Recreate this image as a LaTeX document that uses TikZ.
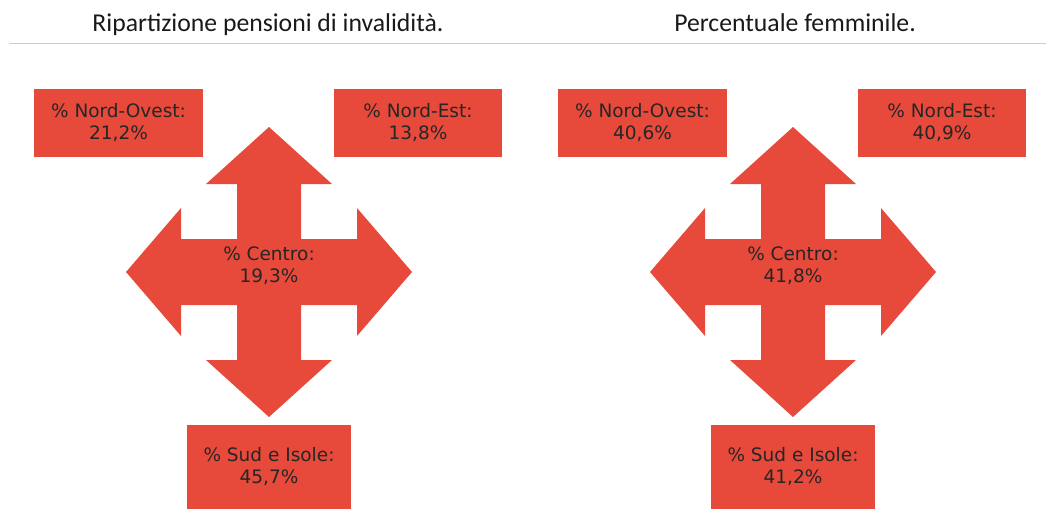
\documentclass[tikz,border=0pt]{standalone}
\usepackage{fontspec}
\usepackage{tikz}
\newfontfamily\boxfont{DejaVu Sans}
\newfontfamily\titlefont{Carlito}
\definecolor{arrowred}{RGB}{231,73,58}
\definecolor{rulegray}{RGB}{204,204,204}
\def\crossarrow(#1){\begin{scope}[shift={(#1)}]\fill[arrowred] (0,-145) -- (63,-88) -- (32,-88) -- (32,-33) -- (88,-33) -- (88,-64) -- (143,0) -- (88,64) -- (88,33) -- (32,33) -- (32,88) -- (63,88) -- (0,145) -- (-63,88) -- (-32,88) -- (-32,33) -- (-88,33) -- (-88,64) -- (-143,0) -- (-88,-64) -- (-88,-33) -- (-32,-33) -- (-32,-88) -- (-63,-88) -- cycle;\end{scope}}
\tikzset{
	regionbox/.style={fill=arrowred, text=black!85, font=\boxfont\fontsize{18.5}{22}\selectfont, align=center, inner sep=0pt},
	centrolabel/.style={text=black!85, font=\boxfont\fontsize{18.5}{22}\selectfont, align=center, inner sep=0pt},
	headtitle/.style={text=black!90, font=\titlefont\fontsize{25.7}{30}\selectfont, anchor=base, inner sep=0pt}
}

\begin{document}
\begin{tikzpicture}[x=1pt, y=-1pt]
			%%%%% START %%%%%
			
			\useasboundingbox (0, 0) rectangle (1048, 509);
			
			\node[headtitle] (titleA) at (268, 31) {Ripartizione pensioni di invalidità.};
			\node[headtitle] (titleB) at (795, 31) {Percentuale femminile.};
			\draw[line width=1.5pt, color=rulegray] (9, 43.5) -- (1046, 43.5);
			
			% invalidita
			\crossarrow(269, 272)
			\node[regionbox, minimum width=169pt, minimum height=68pt] (nordovestA) at (118.5, 123) {\% Nord-Ovest:\\21,2\%};
			\node[regionbox, minimum width=168pt, minimum height=68pt] (nordestA) at (418, 123) {\% Nord-Est:\\13,8\%};
			\node[centrolabel] (centroA) at (269, 266) {\% Centro:\\19,3\%};
			\node[regionbox, minimum width=164pt, minimum height=84pt] (sudA) at (269, 467) {\% Sud e Isole:\\45,7\%};
			
			% femminile
			\crossarrow(793, 272)
			\node[regionbox, minimum width=169pt, minimum height=68pt] (nordovestB) at (642.5, 123) {\% Nord-Ovest:\\40,6\%};
			\node[regionbox, minimum width=168pt, minimum height=68pt] (nordestB) at (942, 123) {\% Nord-Est:\\40,9\%};
			\node[centrolabel] (centroB) at (793, 266) {\% Centro:\\41,8\%};
			\node[regionbox, minimum width=164pt, minimum height=84pt] (sudB) at (793, 467) {\% Sud e Isole:\\41,2\%};
			
			%%%%% END %%%%%
\end{tikzpicture}
\end{document}
